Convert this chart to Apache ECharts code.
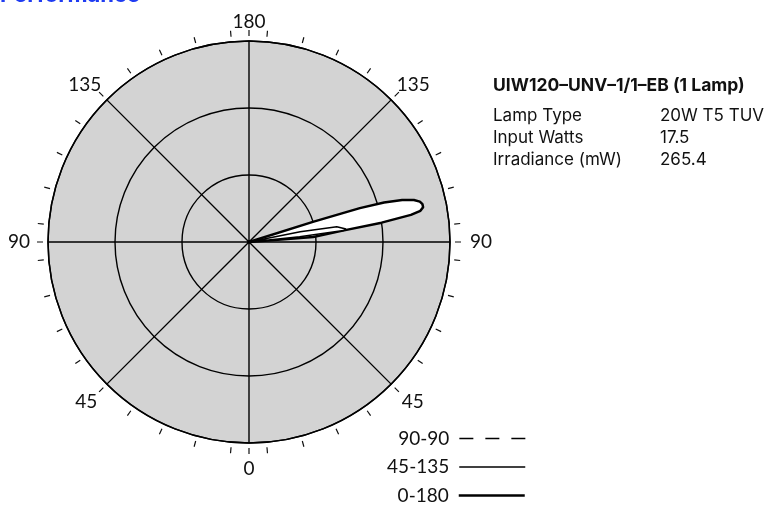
<!DOCTYPE html>
<html><head><meta charset="utf-8">
<script src="https://cdn.jsdelivr.net/npm/echarts@6/dist/echarts.min.js"></script>
<style>html,body{margin:0;padding:0;background:#fff}#c{width:766px;height:506px}</style>
</head><body><div id="c"></div>
<script>
// Angles in degrees: 0 = bottom, 90 = side, 180 = top. Radius in irradiance units.
const seriesNames = ['90-90', '45-135', '0-180'];
const angles_0_180 = [90, 94.5, 96.9, 98.3, 99.5, 100.3, 101.3, 102.3, 103.3, 104.3, 105.3, 106.3, 107, 107.5, 108.5];
const values_0_180 = [0, 96, 141, 200, 245, 260, 265, 265, 262, 254, 237, 210, 173, 100, 0];
const angles_45_135 = [90, 95.9, 96.9, 97.6, 98.5, 99.9, 101.4, 102.5];
const values_45_135 = [0, 76, 142, 146, 145, 133, 78, 0];
const angles_90_90 = [90, 100, 110];
const values_90_90 = [0, 0, 0];
const radiusMax = 300;
const radiusStep = 100;
const angleLabelValues = [0, 45, 90, 135, 180, 225, 270, 315];
const angleTickValues = [0, 5, 15, 25, 35, 45, 55, 65, 75, 85, 90, 95, 105, 115, 125, 135, 145, 155, 165, 175, 180,
  185, 195, 205, 215, 225, 235, 245, 255, 265, 270, 275, 285, 295, 305, 315, 325, 335, 345, 355];
const titleText = 'Performance';
const specTitle = 'UIW120–UNV–1/1–EB (1 Lamp)';
const specLabels = ['Lamp Type', 'Input Watts', 'Irradiance (mW)'];
const specValues = ['20W T5 TUV', '17.5', '265.4'];

function zip(vals, angs) { return vals.map((v, i) => [v, angs[i]]); }

const chart = echarts.init(document.getElementById('c'), null, {renderer: 'canvas'});
const C = [249, 242];
const labelFont = 'Lato, "Liberation Sans", sans-serif';
const specFont = 'Inter, "Noto Sans", sans-serif';

const graphics = [
  {type: 'text', x: 0, y: 6, style: {text: titleText, font: 'bold 22px ' + specFont, fill: '#1f3cf2', verticalAlign: 'bottom'}},
  {type: 'text', x: 493, y: 86, style: {text: specTitle, font: 'bold 17.5px ' + specFont, fill: '#111', verticalAlign: 'middle'}}
];
specLabels.forEach((t, i) => {
  graphics.push({type: 'text', x: 493, y: 116 + i * 22, style: {text: t, font: '17px ' + specFont, fill: '#111', verticalAlign: 'middle'}});
  graphics.push({type: 'text', x: 660, y: 116 + i * 22, style: {text: specValues[i], font: '17px ' + specFont, fill: '#111', verticalAlign: 'middle'}});
});

function lobeFill(vals, angs) {
  return function (params, api) {
    if (params.dataIndex !== 0) return null;
    const pts = vals.map((v, i) => api.coord([v, angs[i]]));
    return {type: 'polygon', shape: {points: pts}, style: {fill: '#fff', stroke: null}};
  };
}

const hiddenAxis = {axisLine: {show: false}, axisTick: {show: false}, axisLabel: {show: false}, splitLine: {show: false}, splitArea: {show: false}};

const lbl = {fontSize: 19, fontFamily: labelFont, color: '#111', lineHeight: 19};
const rich = {
  a0: Object.assign({padding: [16, 0, 0, 0]}, lbl),
  a45: Object.assign({padding: [5, 0, 0, 5]}, lbl),
  a90: Object.assign({padding: [0, 0, 0, 12]}, lbl),
  a135: Object.assign({padding: [0, 0, 0, 0]}, lbl),
  a180: Object.assign({padding: [0, 0, 4, 0]}, lbl),
  a225: Object.assign({padding: [0, 0, 0, 0]}, lbl),
  a270: Object.assign({padding: [0, 10, 0, 0]}, lbl),
  a315: Object.assign({padding: [5, 4, 0, 0]}, lbl)
};

function legendItem(name, width, top, dash) {
  return {
    data: [{name: name, lineStyle: Object.assign({width: width}, dash ? {type: dash} : {})}],
    orient: 'vertical', align: 'right', right: 240, top: top, padding: 0,
    itemWidth: 66, itemHeight: 18, selectedMode: false,
    itemStyle: {color: 'rgba(0,0,0,0)', borderWidth: 0},
    textStyle: {fontSize: 19, fontFamily: labelFont, color: '#111', lineHeight: 18, padding: [0, 5, 0, 0]}
  };
}

chart.setOption({
  animation: false,
  backgroundColor: '#fff',
  graphic: graphics,
  polar: [
    {center: C, radius: 201},
    {center: C, radius: 206},
    {center: C, radius: 201}
  ],
  angleAxis: [
    {polarIndex: 0, type: 'value', min: 0, max: 360, interval: 45, startAngle: 270, clockwise: false, z: 1,
      axisLine: {show: true, lineStyle: {color: '#000', width: 1.5}},
      axisTick: {show: false}, axisLabel: {show: false},
      splitLine: {show: true, lineStyle: {color: '#000', width: 1.4}}, splitArea: {show: false}},
    {polarIndex: 1, type: 'value', min: 0, max: 360, interval: 5, startAngle: 270, clockwise: false, z: 1,
      axisLine: {show: false},
      axisTick: {show: true, inside: false, length: 6, customValues: angleTickValues, lineStyle: {color: '#111', width: 1.2}},
      axisLabel: {show: true, margin: 3, customValues: angleLabelValues,
        formatter: v => '{a' + v + '|' + (v > 180 ? 360 - v : v) + '}', rich: rich,
        fontSize: 19, fontFamily: labelFont, color: '#111'},
      splitLine: {show: false}, splitArea: {show: false}},
    Object.assign({polarIndex: 2, type: 'value', min: 0, max: 360, startAngle: 270, clockwise: false, z: 0}, hiddenAxis)
  ],
  radiusAxis: [
    {polarIndex: 0, type: 'value', min: 0, max: radiusMax, interval: radiusStep, z: 1,
      axisLine: {show: false}, axisTick: {show: false}, axisLabel: {show: false},
      splitLine: {show: true, lineStyle: {color: '#000', width: 1.4}}, splitArea: {show: false}},
    Object.assign({polarIndex: 1, type: 'value', min: 0, max: 1, z: 1}, hiddenAxis),
    {polarIndex: 2, type: 'value', min: 0, max: radiusMax, interval: radiusStep, z: 0,
      axisLine: {show: false}, axisTick: {show: false}, axisLabel: {show: false}, splitLine: {show: false},
      splitArea: {show: true, areaStyle: {color: ['#d3d3d3']}}}
  ],
  legend: [
    legendItem(seriesNames[0], 1.3, 429, [14, 12]),
    legendItem(seriesNames[1], 1.5, 457.5),
    legendItem(seriesNames[2], 2.5, 486)
  ],
  series: [
    {name: 'fill-0-180', type: 'custom', coordinateSystem: 'polar', polarIndex: 0, z: 2,
      data: zip(values_0_180, angles_0_180), renderItem: lobeFill(values_0_180, angles_0_180)},
    {name: '0-180', type: 'line', coordinateSystem: 'polar', polarIndex: 0, symbol: 'none',
      data: zip(values_0_180, angles_0_180), lineStyle: {color: '#000', width: 2.5}, z: 3},
    {name: 'fill-45-135', type: 'custom', coordinateSystem: 'polar', polarIndex: 0, z: 4,
      data: zip(values_45_135, angles_45_135), renderItem: lobeFill(values_45_135, angles_45_135)},
    {name: '45-135', type: 'line', coordinateSystem: 'polar', polarIndex: 0, symbol: 'none',
      data: zip(values_45_135, angles_45_135), lineStyle: {color: '#000', width: 1.5}, z: 5},
    {name: '90-90', type: 'line', coordinateSystem: 'polar', polarIndex: 0, symbol: 'none',
      data: zip(values_90_90, angles_90_90), lineStyle: {color: '#000', width: 1.3, type: [14, 12]}, z: 6}
  ]
});
</script></body></html>
